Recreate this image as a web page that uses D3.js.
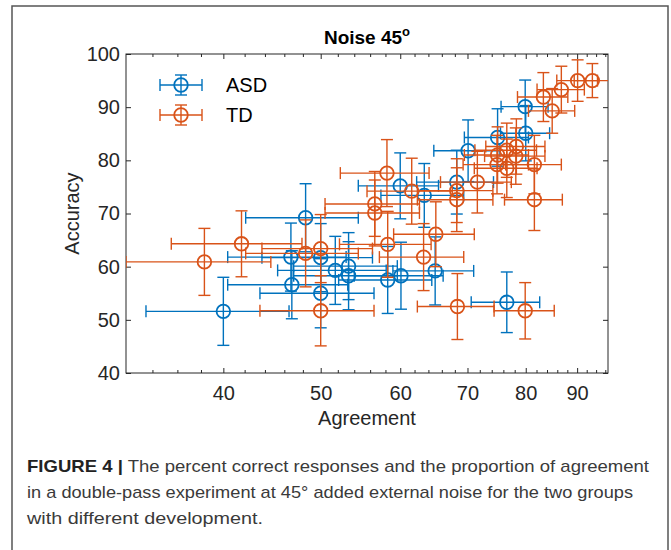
<!DOCTYPE html>
<html><head><meta charset="utf-8">
<script src="https://cdn.jsdelivr.net/npm/d3@7"></script>
<style>body{margin:0;background:#fff}svg{display:block}</style>
</head><body>
<svg id="c" width="671" height="550"></svg>
<script>
// ---- data ----
const seriesNames = ["ASD", "TD"];
const asdX    = [40.0, 48.3, 46.7, 46.8, 50.0, 50.0, 51.7, 53.3, 53.3, 60.0, 58.3, 60.1, 63.4, 65.0, 68.3, 70.1, 75.0, 76.6, 79.9, 80.0];
const asdY    = [51.6, 69.2, 61.8, 56.6, 61.7, 55.0, 59.3, 60.1, 58.3, 75.2, 57.5, 58.3, 73.4, 59.2, 75.9, 81.8, 84.3, 53.3, 90.1, 85.1];
const asdXErr = [6.5, 6.2, 6.3, 6.4, 6.3, 6.5, 6.4, 6.3, 6.3, 5.5, 6.2, 6.1, 6.0, 6.0, 6.0, 5.3, 5.5, 6.0, 4.3, 4.5];
const asdYErr = [6.4, 6.4, 6.4, 6.4, 6.4, 6.5, 6.4, 6.3, 6.4, 6.2, 6.3, 6.3, 6.0, 6.4, 6.0, 5.8, 5.4, 5.7, 5.0, 5.2];
const tdX     = [38.3, 41.7, 48.3, 50.0, 50.0, 56.6, 56.6, 58.2, 58.3, 61.6, 63.3, 65.1, 68.3, 68.3, 68.4, 71.6, 75.0, 74.9, 76.6, 76.6, 78.3, 78.2, 79.9, 81.6, 81.6, 83.3, 85.0, 86.8, 90.1, 93.2];
const tdY     = [60.9, 64.3, 62.5, 63.4, 51.7, 71.8, 70.1, 77.6, 64.2, 74.2, 61.8, 66.1, 74.3, 72.6, 52.5, 75.9, 81.0, 79.2, 81.9, 78.5, 82.6, 80.8, 51.7, 79.2, 72.6, 91.9, 89.3, 93.3, 95.0, 95.0];
const tdXErr  = [6.3, 6.2, 6.2, 6.3, 6.5, 6.1, 6.1, 5.9, 6.1, 6.0, 6.1, 6.0, 5.9, 5.9, 6.0, 5.8, 5.5, 5.6, 5.4, 5.5, 5.3, 5.4, 5.5, 5.2, 5.4, 4.8, 4.5, 4.7, 4.2, 3.8];
const tdYErr  = [6.3, 6.2, 6.3, 6.4, 6.6, 6.1, 6.2, 6.3, 6.2, 6.2, 6.3, 6.1, 6.0, 6.0, 6.2, 5.8, 5.3, 5.5, 5.1, 5.5, 5.2, 5.3, 5.3, 5.5, 5.8, 4.6, 4.2, 4.4, 3.9, 3.2];
const xTicks      = [40, 50, 60, 70, 80, 90];
const xMinorTicks = [34, 36, 38, 42, 44, 46, 48, 52, 54, 56, 58, 62, 64, 66, 68, 72, 74, 76, 78, 82, 84, 86, 88, 92, 94, 96];
const yTicks      = [40, 50, 60, 70, 80, 90, 100];
const xDomain = [32, 96.6];
const yDomain = [40, 100];
const captionLines = [
  ["FIGURE 4 |", " The percent correct responses and the proportion of agreement"],
  ["", "in a double-pass experiment at 45° added external noise for the two groups"],
  ["", "with different development."]
];

// ---- layout / style ----
const W = 671, H = 550;
const L = 126, R = 608, T = 54, B = 373;
const colors = ["#0072BD", "#D95319"];
const axisColor = "#262626";
const font = "'Liberation Sans', Arial, Helvetica, sans-serif";

const svg = d3.select("#c");
svg.append("rect").attr("width", W).attr("height", H).attr("fill", "#fff");
// outer figure box
svg.append("rect").attr("x", 12).attr("y", 6).attr("width", 656).attr("height", 600)
  .attr("fill", "none").attr("stroke", "#555").attr("stroke-width", 1.5);

const x = d3.scaleLog().domain(xDomain).range([L, R]);
const y = d3.scaleLinear().domain(yDomain).range([B, T]);

svg.append("defs").append("clipPath").attr("id", "clip")
  .append("rect").attr("x", L).attr("y", T).attr("width", R - L).attr("height", B - T);

// axes
const fmt = d3.format("d");
function styleAxis(g) {
  g.select(".domain").remove();
  g.selectAll("line").attr("stroke", axisColor).attr("stroke-width", 1);
  g.selectAll("text").attr("fill", axisColor).attr("font-family", font).attr("font-size", 20);
}
svg.append("g").attr("transform", `translate(0,${B})`)
  .call(d3.axisBottom(x).tickValues(xTicks).tickFormat(fmt).tickSize(-5).tickPadding(13))
  .call(styleAxis);
svg.append("g").attr("transform", `translate(0,${B})`)
  .call(d3.axisBottom(x).tickValues(xMinorTicks).tickFormat("").tickSize(-3))
  .call(styleAxis);
svg.append("g").attr("transform", `translate(0,${T})`)
  .call(d3.axisTop(x).tickValues(xTicks).tickFormat("").tickSize(-5))
  .call(styleAxis);
svg.append("g").attr("transform", `translate(0,${T})`)
  .call(d3.axisTop(x).tickValues(xMinorTicks).tickFormat("").tickSize(-3))
  .call(styleAxis);
svg.append("g").attr("transform", `translate(${L},0)`)
  .call(d3.axisLeft(y).tickValues(yTicks).tickFormat(fmt).tickSize(-5).tickPadding(6))
  .call(styleAxis);
svg.append("g").attr("transform", `translate(${R},0)`)
  .call(d3.axisRight(y).tickValues(yTicks).tickFormat("").tickSize(-5))
  .call(styleAxis);
// box
svg.append("rect").attr("x", L).attr("y", T).attr("width", R - L).attr("height", B - T)
  .attr("fill", "none").attr("stroke", axisColor).attr("stroke-width", 1);

// labels
svg.append("text").attr("x", (L + R) / 2).attr("y", 425).attr("text-anchor", "middle")
  .attr("font-family", font).attr("font-size", 20).attr("fill", axisColor).text("Agreement");
svg.append("text").attr("transform", `translate(79,${(T + B) / 2}) rotate(-90)`).attr("text-anchor", "middle")
  .attr("font-family", font).attr("font-size", 20).attr("fill", axisColor).text("Accuracy");
const title = svg.append("text").attr("x", (L + R) / 2).attr("y", 44).attr("text-anchor", "middle")
  .attr("font-family", font).attr("font-size", 19).attr("font-weight", "bold").attr("fill", "#000");
title.append("tspan").text("Noise 45");
title.append("tspan").attr("dy", -8).attr("font-size", 13).text("o");

// series
const capH = 6, rad = 6.8;
function drawSeries(xs, ys, xe, ye, color) {
  const data = xs.map((d, i) => ({ x: d, y: ys[i], xe: xe[i], ye: ye[i] }));
  const g = svg.append("g").attr("clip-path", "url(#clip)")
    .attr("stroke", color).attr("fill", "none");
  const bars = g.append("g").attr("stroke-width", 1.4);
  const e = bars.selectAll("g").data(data).enter().append("g");
  e.append("line").attr("x1", d => x(d.x - d.xe)).attr("x2", d => x(d.x + d.xe))
    .attr("y1", d => y(d.y)).attr("y2", d => y(d.y));
  e.append("line").attr("x1", d => x(d.x - d.xe)).attr("x2", d => x(d.x - d.xe))
    .attr("y1", d => y(d.y) - capH).attr("y2", d => y(d.y) + capH);
  e.append("line").attr("x1", d => x(d.x + d.xe)).attr("x2", d => x(d.x + d.xe))
    .attr("y1", d => y(d.y) - capH).attr("y2", d => y(d.y) + capH);
  e.append("line").attr("x1", d => x(d.x)).attr("x2", d => x(d.x))
    .attr("y1", d => y(d.y - d.ye)).attr("y2", d => y(d.y + d.ye));
  e.append("line").attr("x1", d => x(d.x) - capH).attr("x2", d => x(d.x) + capH)
    .attr("y1", d => y(d.y - d.ye)).attr("y2", d => y(d.y - d.ye));
  e.append("line").attr("x1", d => x(d.x) - capH).attr("x2", d => x(d.x) + capH)
    .attr("y1", d => y(d.y + d.ye)).attr("y2", d => y(d.y + d.ye));
  g.append("g").attr("stroke-width", 1.8).selectAll("circle").data(data).enter().append("circle")
    .attr("cx", d => x(d.x)).attr("cy", d => y(d.y)).attr("r", rad);
}
drawSeries(asdX, asdY, asdXErr, asdYErr, colors[0]);
drawSeries(tdX, tdY, tdXErr, tdYErr, colors[1]);

// legend
seriesNames.forEach((name, i) => {
  const cy = 85 + i * 30, cx = 181;
  const g = svg.append("g").attr("stroke", colors[i]).attr("fill", "none").attr("stroke-width", 1.4);
  g.append("line").attr("x1", cx - 21).attr("x2", cx + 21).attr("y1", cy).attr("y2", cy);
  g.append("line").attr("x1", cx - 21).attr("x2", cx - 21).attr("y1", cy - 6).attr("y2", cy + 6);
  g.append("line").attr("x1", cx + 21).attr("x2", cx + 21).attr("y1", cy - 6).attr("y2", cy + 6);
  g.append("line").attr("x1", cx).attr("x2", cx).attr("y1", cy - 10).attr("y2", cy + 10);
  g.append("line").attr("x1", cx - 6).attr("x2", cx + 6).attr("y1", cy - 10).attr("y2", cy - 10);
  g.append("line").attr("x1", cx - 6).attr("x2", cx + 6).attr("y1", cy + 10).attr("y2", cy + 10);
  g.append("circle").attr("cx", cx).attr("cy", cy).attr("r", rad).attr("stroke-width", 1.8);
  svg.append("text").attr("x", 226).attr("y", cy + 7).attr("font-family", font).attr("font-size", 20)
    .attr("fill", "#000").text(name);
});

// caption
const capWidths = [622, 606, 236];
captionLines.forEach((ln, i) => {
  const t = svg.append("text").attr("x", 27).attr("y", 472 + i * 26)
    .attr("font-family", font).attr("font-size", 17).attr("fill", "#3a3a3a")
    .attr("textLength", capWidths[i]).attr("lengthAdjust", "spacingAndGlyphs");
  if (ln[0]) t.append("tspan").attr("font-weight", "bold").attr("fill", "#222").text(ln[0]);
  t.append("tspan").text(ln[1]);
});
</script>
</body></html>
